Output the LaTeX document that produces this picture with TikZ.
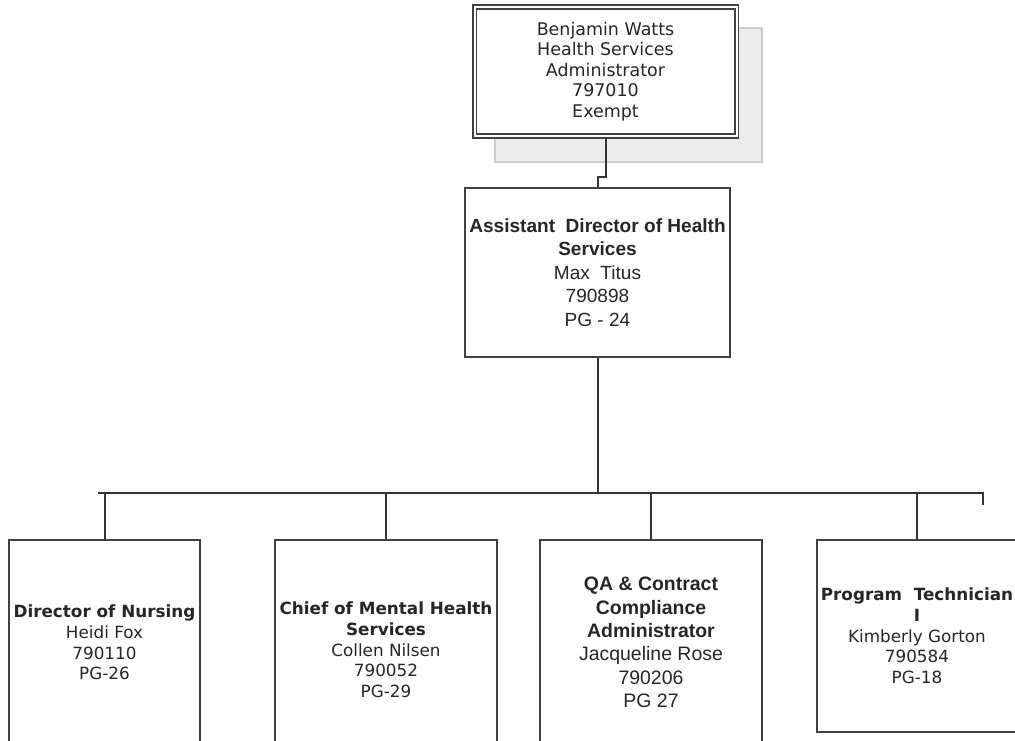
\documentclass[tikz,border=0pt]{standalone}
\usepackage{fontspec}
\setmainfont{DejaVu Sans}
\newfontfamily\arialfont{Liberation Sans}
\begin{document}
\begin{tikzpicture}[x=0.75pt,y=-0.75pt,
    box/.style={rectangle,draw=black!75,line width=1.2pt,fill=white,
                align=center,text=black!85,inner sep=0pt},
    verd/.style={font=\fontsize{12.6}{15.5}\selectfont},
    arl/.style={font=\arialfont\fontsize{14.6}{17.6}\selectfont},
    link/.style={draw=black!80,line width=1.5pt}]
  \useasboundingbox (0,0) rectangle (1015,740);

  % head of the unit, with its shadow
  \fill[gray!15,draw=gray!40,line width=1pt] (495,28) rectangle (762,162);
  \node[box,double,double distance=1.5pt,minimum width=196.5pt,minimum height=96.75pt,
        font=\fontsize{13.1}{15.4}\selectfont] (admin) at (605.5,71.5)
    {Benjamin Watts\\Health Services\\Administrator\\797010\\Exempt};

  \node[box,arl,font=\arialfont\fontsize{14.3}{17.6}\selectfont,
        minimum width=198.75pt,minimum height=126.75pt] (asst) at (597.5,272.5)
    {\textbf{Assistant\ \ Director of Health}\\\textbf{Services}\\Max\ \ Titus\\790898\\PG - 24};

  % staff row
  \node[box,verd,minimum width=143.25pt,minimum height=153.75pt] (nurse) at (104.5,642.5)
    {\textbf{Director of Nursing}\\Heidi Fox\\790110\\PG-26};
  \node[box,verd,minimum width=166.5pt,minimum height=165pt] (mental) at (386,650)
    {\textbf{Chief of Mental Health}\\\textbf{Services}\\Collen Nilsen\\790052\\PG-29};
  \node[box,arl,minimum width=166.5pt,minimum height=153.75pt] (qa) at (651,642.5)
    {\textbf{QA \& Contract}\\\textbf{Compliance}\\\textbf{Administrator}\\Jacqueline Rose\\790206\\PG 27};
  \node[box,verd,minimum width=150pt,minimum height=144pt] (tech) at (917,636)
    {\textbf{Program\ \ Technician}\\\textbf{I}\\Kimberly Gorton\\790584\\PG-18};

  % connectors
  \coordinate (busl) at (98,493);
  \coordinate (busr) at (983,493);
  \coordinate (tick) at (983,505);
  \draw[link] (admin.south) -- ++(0,40) -| (asst.north);
  \draw[link] (asst.south) -- (asst.south |- busl);
  \draw[link] (busl) -- (busr) -- (tick);
  \foreach \n in {nurse,mental,qa,tech}
    \draw[link] (\n.north) -- (\n.north |- busl);
\end{tikzpicture}
\end{document}
